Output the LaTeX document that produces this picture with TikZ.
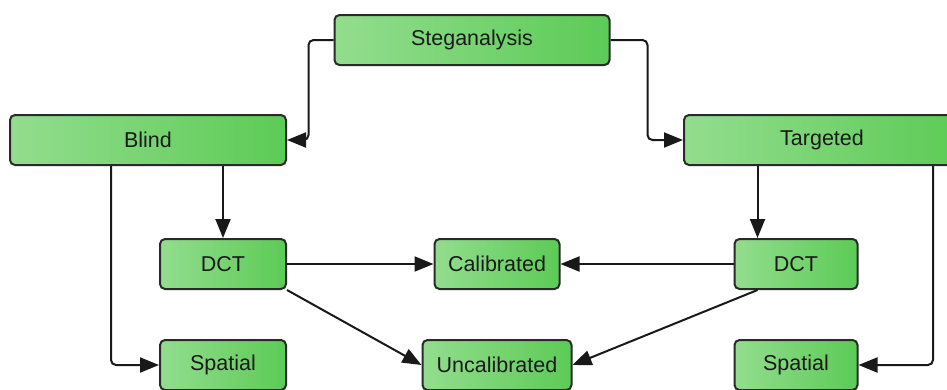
\documentclass[tikz,border=0pt]{standalone}
\usepackage{fontspec}
\setmainfont{Liberation Sans}
\usetikzlibrary{arrows.meta}
\definecolor{gl}{HTML}{93DD8E}
\definecolor{gr}{HTML}{5CCB56}
\definecolor{bd}{HTML}{2A2A2A}
\definecolor{tx}{HTML}{1A1A1A}
\tikzset{
  box/.style={draw=bd, line width=2pt, rounded corners=5pt, left color=gl, right color=gr,
    inner sep=0pt, text=tx, font=\fontsize{21.5}{26}\selectfont, minimum height=50pt},
  arr/.style={draw=black!90, line width=2pt, -{Triangle[length=19pt,width=15pt]}},
}
\begin{document}
\begin{tikzpicture}[x=1pt,y=-1pt]
\useasboundingbox (0,0) rectangle (947,389);
\clip (0,0) rectangle (947,389);
\node[box, minimum width=275pt] (steg) at (472,40) {Steganalysis};
\node[box, minimum width=276pt] (blind) at (148,140) {Blind};
\node[box, minimum width=276pt] (targ) at (822,140) {Targeted};
\node[box, minimum width=126pt] (bdct) at (223,264) {DCT};
\node[box, minimum width=125pt] (calib) at (497,264) {Calibrated};
\node[box, minimum width=123pt] (tdct) at (796,264) {DCT};
\node[box, minimum width=126pt] (bsp) at (223,365) {Spatial};
\node[box, minimum width=149pt] (uncal) at (497,365) {Uncalibrated};
\node[box, minimum width=123pt] (tsp) at (796,365) {Spatial};
\draw[arr, rounded corners=5pt] (steg.west) -- ++(-25,0) |- (blind.east);
\draw[arr, rounded corners=5pt] (steg.east) -- ++(37,0) |- (targ.west);
\draw[arr] (bdct.north |- blind.south) -- (bdct.north);
\draw[arr, rounded corners=5pt] ([xshift=102pt]blind.south west) |- (bsp.west);
\draw[arr] ([xshift=24pt]tdct.north west |- targ.south) -- ([xshift=24pt]tdct.north west);
\draw[arr, rounded corners=5pt] ([xshift=250pt]targ.south west) |- (tsp.east);
\draw[arr] (bdct.east) -- (calib.west);
\draw[arr] (tdct.west) -- (calib.east);
\draw[arr] (bdct.south east) -- (uncal.west);
\draw[arr] ([xshift=24pt]tdct.south west) -- (uncal.east);
\end{tikzpicture}
\end{document}
